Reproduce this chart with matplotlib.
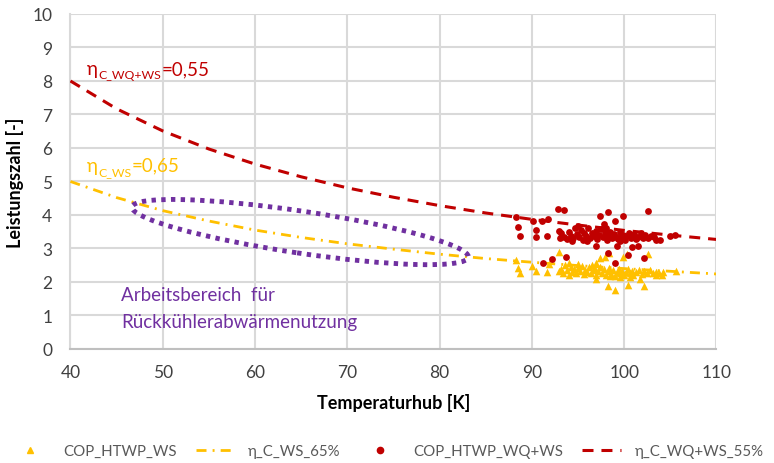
import numpy as np
import matplotlib
matplotlib.use("Agg")
import matplotlib.pyplot as plt
import matplotlib.transforms as mtransforms
from matplotlib.patches import Ellipse
from matplotlib.lines import Line2D

plt.rcParams['font.family'] = ['Lato', 'DejaVu Sans']

# ---- data ----
line_x = [40, 45, 50, 55, 60, 65, 70, 75, 80, 85, 90, 95, 100, 105, 110]
eta_ws_65 = [5.00, 4.52, 4.13, 3.82, 3.55, 3.33, 3.14, 2.98, 2.83, 2.70, 2.59, 2.49, 2.40, 2.32, 2.24]
eta_wqws_55 = [8.00, 7.17, 6.51, 5.97, 5.52, 5.14, 4.81, 4.53, 4.28, 4.06, 3.87, 3.70, 3.54, 3.40, 3.27]

cop_ws_x = [88.3, 88.5, 88.7, 90.0, 90.5, 91.6, 91.9, 92.9, 92.9, 97.4, 97.9, 98.4, 99.9, 100.3, 102.6,
            97.0, 98.3, 99.0, 100.4, 102.1, 105.6, 104.1, 103.5, 100.6, 101.7,
            93.2, 93.4, 93.6, 93.8, 94.0, 94.2, 94.4, 94.6, 94.8, 95.0, 95.2, 95.4, 95.6, 95.8, 96.0,
            96.2, 96.4, 96.6, 96.8, 97.0, 97.2, 97.4, 97.6, 97.8, 98.0, 98.2, 98.4, 98.6, 98.8, 99.0,
            99.2, 99.4, 99.6, 99.8, 100.0, 100.2, 100.4, 100.6, 100.8, 101.0, 101.3, 101.6, 101.9, 102.2,
            102.5, 102.8, 103.1, 103.4, 103.8, 104.2, 95.0, 96.5, 98.5, 99.5, 94.0, 97.0]
cop_ws_y = [2.67, 2.42, 2.26, 2.49, 2.32, 2.29, 2.54, 2.91, 2.32, 2.72, 2.76, 2.86, 2.74, 2.84, 2.83,
            2.09, 1.88, 1.75, 1.92, 1.87, 2.33, 2.21, 2.21, 2.14, 2.09,
            2.40, 2.28, 2.50, 2.35, 2.22, 2.45, 2.31, 2.38, 2.26, 2.42, 2.33, 2.48, 2.24, 2.36, 2.30,
            2.44, 2.27, 2.35, 2.40, 2.22, 2.33, 2.46, 2.28, 2.38, 2.20, 2.32, 2.42, 2.25, 2.35, 2.18,
            2.30, 2.40, 2.26, 2.34, 2.22, 2.31, 2.38, 2.26, 2.34, 2.21, 2.30, 2.36, 2.25, 2.33,
            2.28, 2.35, 2.26, 2.31, 2.28, 2.30, 2.55, 2.52, 2.18, 2.15, 2.58, 2.58]

cop_wqws_x = [88.3, 88.5, 88.7, 90.1, 90.5, 90.5, 91.1, 91.6, 91.8, 92.8, 93.5, 92.9, 91.2, 92.2, 93.7,
              97.4, 98.2, 99.0, 99.9, 97.8, 102.6, 97.0, 99.2, 100.9, 101.5, 98.3, 99.0, 100.4, 102.1,
              105.5, 105.0, 103.9, 103.5, 103.2,
              93.2, 93.5, 93.8, 94.0, 94.2, 94.5, 94.7, 94.9, 95.1, 95.3, 95.5, 95.7, 95.9, 96.1, 96.3,
              96.5, 96.7, 96.9, 97.1, 97.3, 97.5, 97.7, 97.9, 98.1, 98.3, 98.5, 98.7, 98.9, 99.1, 99.3,
              99.5, 99.7, 99.9, 100.1, 100.3, 100.5, 100.7, 100.9, 101.1, 101.3, 101.5, 101.8, 102.0,
              102.3, 102.6, 102.9, 96.0, 98.0, 99.6, 94.3, 95.0, 93.0]
cop_wqws_y = [3.95, 3.63, 3.38, 3.83, 3.55, 3.33, 3.81, 3.38, 3.88, 4.18, 4.16, 3.53, 2.58, 2.69, 2.76,
              3.98, 4.10, 3.83, 3.98, 3.73, 4.11, 3.08, 3.08, 3.05, 3.07, 2.87, 2.56, 2.82, 2.72,
              3.41, 3.38, 3.26, 3.24, 3.33,
              3.45, 3.35, 3.28, 3.50, 3.38, 3.30, 3.60, 3.42, 3.33, 3.55, 3.25, 3.47, 3.38, 3.62, 3.30,
              3.45, 3.36, 3.52, 3.27, 3.40, 3.58, 3.33, 3.46, 3.24, 3.38, 3.50, 3.30, 3.42, 3.35, 3.28,
              3.48, 3.33, 3.40, 3.25, 3.37, 3.45, 3.30, 3.38, 3.42, 3.28, 3.35, 3.46, 3.32,
              3.40, 3.30, 3.36, 3.22, 3.62, 3.22, 3.23, 3.68, 3.30]

x_ticks = [40, 50, 60, 70, 80, 90, 100, 110]
y_ticks = list(range(0, 11))
labels = ['COP_HTWP_WS', 'η_C_WS_65%', 'COP_HTWP_WQ+WS', 'η_C_WQ+WS_55%']

RED = '#C00000'
YEL = '#FFC000'
PUR = '#7030A0'
GRID = '#D9D9D9'
LS_DASHDOT = (0, (3.6, 2.2, 0.7, 2.2))
LS_DASH = (0, (3.6, 2.6))

fig = plt.figure(figsize=(7.74, 4.64), dpi=100)
ax = fig.add_axes([0.091, 0.2457, 0.8346, 0.722])
ax.set_xlim(40, 110)
ax.set_ylim(0, 10)
ax.set_xticks(x_ticks)
ax.set_yticks(y_ticks)
ax.grid(True, color=GRID, lw=1.5, zorder=0)
ax.set_axisbelow(True)
for s in ['top', 'right']:
    ax.spines[s].set_visible(False)
ax.spines['left'].set_color(GRID)
ax.spines['left'].set_linewidth(1.5)
ax.spines['bottom'].set_color('#BFBFBF')
ax.spines['bottom'].set_linewidth(1.5)
ax.tick_params(length=0, labelsize=12.5, colors='#404040')
ax.tick_params(axis='y', pad=13)
ax.tick_params(axis='x', pad=11)

ax.plot(line_x, eta_ws_65, color=YEL, lw=2, ls=LS_DASHDOT, zorder=3)
ax.plot(line_x, eta_wqws_55, color=RED, lw=2.2, ls=LS_DASH, zorder=3)
ax.scatter(cop_ws_x, cop_ws_y, marker='^', s=30, color=YEL, lw=0, zorder=4)
ax.scatter(cop_wqws_x, cop_wqws_y, marker='o', s=24, color=RED, lw=0, zorder=5)

ax.set_xlabel('Temperaturhub [K]', fontsize=13, fontweight='bold', labelpad=9)
ax.set_ylabel('Leistungszahl [-]', fontsize=13, fontweight='bold', labelpad=6)

# working range ellipse (drawn in pixel units around a data-space centre)
trans = mtransforms.ScaledTranslation(64.9, 3.49, ax.transData)
ell = Ellipse((0, 0), width=340, height=42, angle=-8.5, transform=mtransforms.IdentityTransform() + trans,
              fill=False, edgecolor=PUR, lw=3.5, ls=(0, (0.9, 1.1)), zorder=6)
ax.add_patch(ell)

ax.text(45.5, 1.62, 'Arbeitsbereich  für', color=PUR, fontsize=13.5, va='center', ha='left')
ax.text(45.5, 0.82, 'Rückkühlerabwärmenutzung', color=PUR, fontsize=13.5, va='center', ha='left')


def eta_label(x, y, sub, rest, color):
    t1 = ax.text(x, y, 'η', color=color, fontsize=13.5, va='baseline', ha='left')
    t2 = ax.annotate(sub, xy=(1, y), xycoords=(t1, 'data'), xytext=(0.3, -3),
                     textcoords='offset points', color=color, fontsize=8.8,
                     va='baseline', ha='left')
    ax.annotate(rest, xy=(1, y), xycoords=(t2, 'data'), xytext=(0.2, 0),
                textcoords='offset points', color=color, fontsize=13.5,
                va='baseline', ha='left')


eta_label(41.8, 8.21, 'C_WQ+WS', '=0,55', RED)
eta_label(41.8, 5.32, 'C_WS', '=0,65', YEL)

handles = [
    Line2D([], [], ls='none', marker='^', color=YEL, markersize=5),
    Line2D([], [], color=YEL, lw=2, ls=LS_DASHDOT),
    Line2D([], [], ls='none', marker='o', color=RED, markersize=4.5),
    Line2D([], [], color=RED, lw=2.2, ls=LS_DASH),
]
leg = fig.legend(handles, labels, loc='center', bbox_to_anchor=(0.5, 0.026), ncol=4, frameon=False,
                 fontsize=10.8, handlelength=2.6, columnspacing=1.3, handletextpad=0.9)
for t in leg.get_texts():
    t.set_color('#595959')

fig.savefig('out.png', dpi=100)
